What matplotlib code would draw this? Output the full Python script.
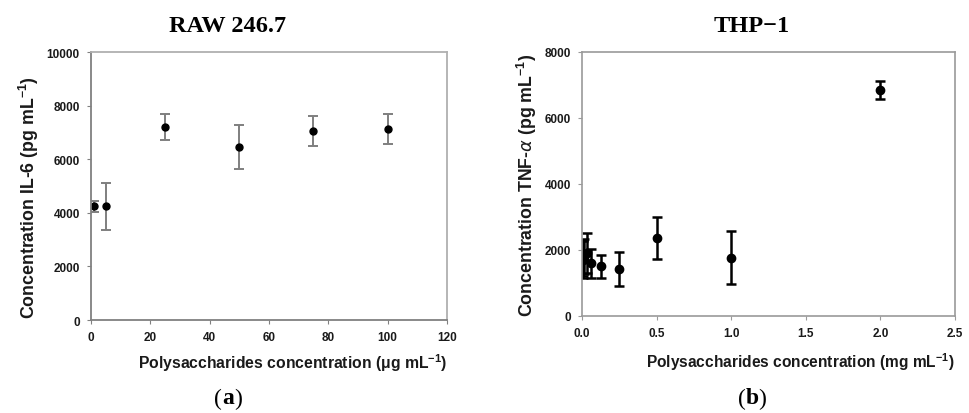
import matplotlib
matplotlib.use("Agg")
import matplotlib.pyplot as plt

# (a) RAW 246.7 - IL-6
raw_x = [1, 5, 25, 50, 75, 100]
raw_y = [4250, 4250, 7200, 6460, 7050, 7130]
raw_err = [210, 880, 490, 830, 560, 555]

# (b) THP-1 - TNF-alpha
thp_x = [0.0039, 0.0078, 0.0156, 0.03125, 0.0625, 0.125, 0.25, 0.5, 1.0, 2.0]
thp_y = [1700, 1760, 1800, 1900, 1600, 1500, 1420, 2360, 1770, 6850]
thp_err = [560, 540, 530, 610, 440, 360, 525, 640, 810, 265]

plt.rcParams['font.family'] = ['Liberation Sans', 'DejaVu Sans']
plt.rcParams['mathtext.fontset'] = 'custom'
plt.rcParams['mathtext.rm'] = 'Liberation Sans'
plt.rcParams['mathtext.bf'] = 'Liberation Sans:bold'

fig = plt.figure(figsize=(9.7, 4.14), dpi=100)
ax1 = fig.add_axes([0.0938, 0.2246, 0.367, 0.647])
ax2 = fig.add_axes([0.600, 0.2343, 0.3845, 0.6377])

# left panel
ax1.errorbar(raw_x, raw_y, yerr=raw_err, fmt='o', color='black', ms=5,
             ecolor='#7f7f7f', elinewidth=1.4, capsize=3.5, capthick=1.4)
ax1.set_xlim(0, 120)
ax1.set_ylim(0, 10000)
ax1.set_xticks(range(0, 121, 20))
ax1.set_yticks(range(0, 10001, 2000))
for s in ['left', 'bottom']:
    ax1.spines[s].set_color('#808080')
    ax1.spines[s].set_linewidth(1.3)
for s in ['top', 'right']:
    ax1.spines[s].set_color('#b0b0b0')
    ax1.spines[s].set_linewidth(1.3)
ax1.tick_params(direction='out', length=3, color='#808080', labelsize=8.5,
                labelcolor='#1a1a1a', pad=5)
ax1.set_xlabel(r'Polysaccharides concentration ($\mathbf{\mu}$g mL$^{\mathbf{-1}}$)',
               loc='right', fontsize=11.3, fontweight='bold', color='#1a1a1a', labelpad=6)
ax1.set_ylabel(r'Concentration IL-6 (pg mL$^{\mathbf{-1}}$)',
               fontsize=12.8, fontweight='bold', color='#1a1a1a', labelpad=4)
ax1.yaxis.label.set_y(0.46)

# right panel
ax2.errorbar(thp_x, thp_y, yerr=thp_err, fmt='o', color='black', ms=6,
             ecolor='black', elinewidth=1.8, capsize=3.5, capthick=1.8)
ax2.set_xlim(0, 2.5)
ax2.set_ylim(0, 8000)
ax2.set_xticks([0.0, 0.5, 1.0, 1.5, 2.0, 2.5])
ax2.set_xticklabels(['0.0', '0.5', '1.0', '1.5', '2.0', '2.5'])
ax2.set_yticks(range(0, 8001, 2000))
for s in ax2.spines.values():
    s.set_color('#9a9a9a')
    s.set_linewidth(1.2)
ax2.tick_params(direction='out', length=3, color='#9a9a9a', labelsize=8.5,
                labelcolor='#1a1a1a', pad=5)
ax2.set_xlabel(r'Polysaccharides concentration (mg mL$^{\mathbf{-1}}$)',
               loc='right', fontsize=11.2, fontweight='bold', color='#1a1a1a', labelpad=8)
ax2.set_ylabel(r'Concentration TNF-$\alpha$ (pg mL$^{\mathbf{-1}}$)',
               fontsize=12.8, fontweight='bold', color='#1a1a1a', labelpad=4)

for ax in (ax1, ax2):
    for lbl in ax.get_xticklabels() + ax.get_yticklabels():
        lbl.set_fontweight('bold')

# titles and panel letters
serif = ['Liberation Serif', 'DejaVu Serif']
fig.text(228 / 970, 1 - 26 / 414, 'RAW 246.7', ha='center', va='center',
         fontsize=17.5, fontweight='bold', family=serif)
fig.text(752 / 970, 1 - 26 / 414, 'THP\u22121', ha='center', va='center',
         fontsize=17.5, fontweight='bold', family=serif)
for xc, letter in [(228, 'a'), (752, 'b')]:
    fig.text(xc / 970 - 0.0105, 1 - 399 / 414, '(', ha='center', va='center',
             fontsize=17, family=serif)
    fig.text(xc / 970, 1 - 399 / 414, letter, ha='center', va='center',
             fontsize=17, fontweight='bold', family=serif)
    fig.text(xc / 970 + 0.0105, 1 - 399 / 414, ')', ha='center', va='center',
             fontsize=17, family=serif)

fig.savefig('out.png', dpi=100)
